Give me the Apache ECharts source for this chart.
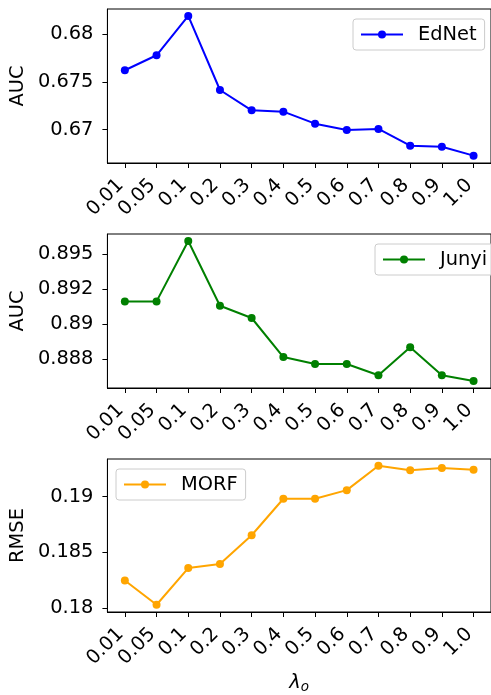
<!DOCTYPE html>
<html lang="en">
<head>
    <meta charset="UTF-8">
    <title>lambda_o sensitivity</title>
    <script src="https://cdn.jsdelivr.net/npm/echarts@6/dist/echarts.min.js"></script>
    <style>
        html, body { margin: 0; padding: 0; background: #fff; }
        #main { width: 491px; height: 695px; }
    </style>
</head>
<body>
<div id="main"></div>
<script type="text/javascript">
    // x categories (lambda_o)
    var cats = ['0.01', '0.05', '0.1', '0.2', '0.3', '0.4', '0.5', '0.6', '0.7', '0.8', '0.9', '1.0'];

    // values
    var ednet = [0.67623, 0.6778, 0.68192, 0.67416, 0.67203, 0.67189, 0.67063, 0.66997, 0.67008, 0.66833, 0.66822, 0.66728];
    var junyi = [0.89131, 0.89131, 0.89476, 0.89106, 0.89036, 0.88813, 0.88773, 0.88773, 0.88709, 0.88869, 0.88709, 0.88676];
    var morf = [0.18245, 0.18027, 0.18357, 0.18393, 0.18652, 0.1898, 0.1898, 0.19057, 0.19277, 0.19236, 0.19256, 0.19241];

    // y tick positions / labels
    var ednetTicks = [0.67, 0.675, 0.68];
    var junyiTicks = [0.888, 0.89, 0.892, 0.894];
    var junyiTickLabels = ['0.888', '0.89', '0.892', '0.895'];
    var morfTicks = [0.18, 0.185, 0.19];

    var FONT = 'DejaVu Sans';
    var FS = 19.4;
    var idx = cats.map(function (c, i) { return i; });

    function pairs(arr) {
        return arr.map(function (v, i) { return [i, v]; });
    }

    function xAxisFor(g, withName) {
        var ax = {
            type: 'value', gridIndex: g, min: -0.55, max: 11.55,
            axisLine: { show: true, onZero: false, lineStyle: { color: '#000', width: 1 } },
            axisTick: { show: true, length: 5, customValues: idx, lineStyle: { color: '#000', width: 1 } },
            axisLabel: {
                customValues: idx, rotate: 45, margin: 15,
                padding: [0, 6, 0, 0],
                fontFamily: FONT, fontSize: FS, color: '#000',
                formatter: function (v) { return cats[Math.round(v)]; }
            },
            splitLine: { show: false }
        };
        if (withName) {
            ax.name = '{i|λ}{s|o}';
            ax.nameLocation = 'middle';
            ax.nameGap = 59;
            ax.nameTextStyle = {
                rich: {
                    i: { fontFamily: FONT, fontSize: FS, fontStyle: 'italic', color: '#000' },
                    s: { fontFamily: FONT, fontSize: 13.5, fontStyle: 'italic', color: '#000', padding: [9, 0, 0, 0] }
                }
            };
        }
        return ax;
    }

    function yAxisFor(g, min, max, ticks, labels, name) {
        return {
            type: 'value', gridIndex: g, min: min, max: max,
            name: name, nameLocation: 'middle', nameGap: 62,
            nameTextStyle: { fontFamily: FONT, fontSize: FS, color: '#000' },
            axisLine: { show: true, onZero: false, lineStyle: { color: '#000', width: 1 } },
            axisTick: { show: true, length: 5, customValues: ticks, lineStyle: { color: '#000', width: 1 } },
            axisLabel: {
                customValues: ticks, margin: 14,
                fontFamily: FONT, fontSize: FS, color: '#000',
                formatter: function (v) {
                    for (var k = 0; k < ticks.length; k++) {
                        if (Math.abs(ticks[k] - v) < 1e-9) return labels[k];
                    }
                    return '';
                }
            },
            splitLine: { show: false }
        };
    }

    function lineSeries(name, data, color, g) {
        return {
            name: name, type: 'line', xAxisIndex: g, yAxisIndex: g,
            data: pairs(data), symbol: 'circle', symbolSize: 8,
            lineStyle: { color: color, width: 2 },
            itemStyle: { color: color },
            animation: false
        };
    }

    function legendFor(name, left, top) {
        return {
            data: [name], left: left, top: top, orient: 'vertical',
            padding: [6, 8, 6, 7],
            itemWidth: 42, itemHeight: 10,
            backgroundColor: 'rgba(255,255,255,0.8)',
            borderColor: '#cccccc', borderWidth: 1, borderRadius: 3,
            textStyle: { fontFamily: FONT, fontSize: FS, color: '#000', padding: [0, 0, 0, 10] }
        };
    }

    var myChart = echarts.init(document.getElementById('main'));

    var gridBase = { left: 105, width: 391, height: 154, show: true, borderColor: '#000', borderWidth: 1 };

    var option = {
        backgroundColor: '#fff',
        animation: false,
        grid: [
            Object.assign({ top: 9 }, gridBase),
            Object.assign({ top: 234 }, gridBase),
            Object.assign({ top: 459 }, gridBase)
        ],
        xAxis: [xAxisFor(0, false), xAxisFor(1, false), xAxisFor(2, true)],
        yAxis: [
            yAxisFor(0, 0.66651, 0.68265, ednetTicks, ednetTicks.map(String), 'AUC'),
            yAxisFor(1, 0.88636, 0.89516, junyiTicks, junyiTickLabels, 'AUC'),
            yAxisFor(2, 0.17962, 0.19337, morfTicks, morfTicks.map(String), 'RMSE')
        ],
        legend: [
            legendFor('EdNet', 353, 19),
            legendFor('Junyi', 375, 244),
            legendFor('MORF', 116, 469)
        ],
        series: [
            lineSeries('EdNet', ednet, '#0000ff', 0),
            lineSeries('Junyi', junyi, '#008000', 1),
            lineSeries('MORF', morf, '#ffa500', 2)
        ]
    };

    myChart.setOption(option);
</script>
</body>
</html>
